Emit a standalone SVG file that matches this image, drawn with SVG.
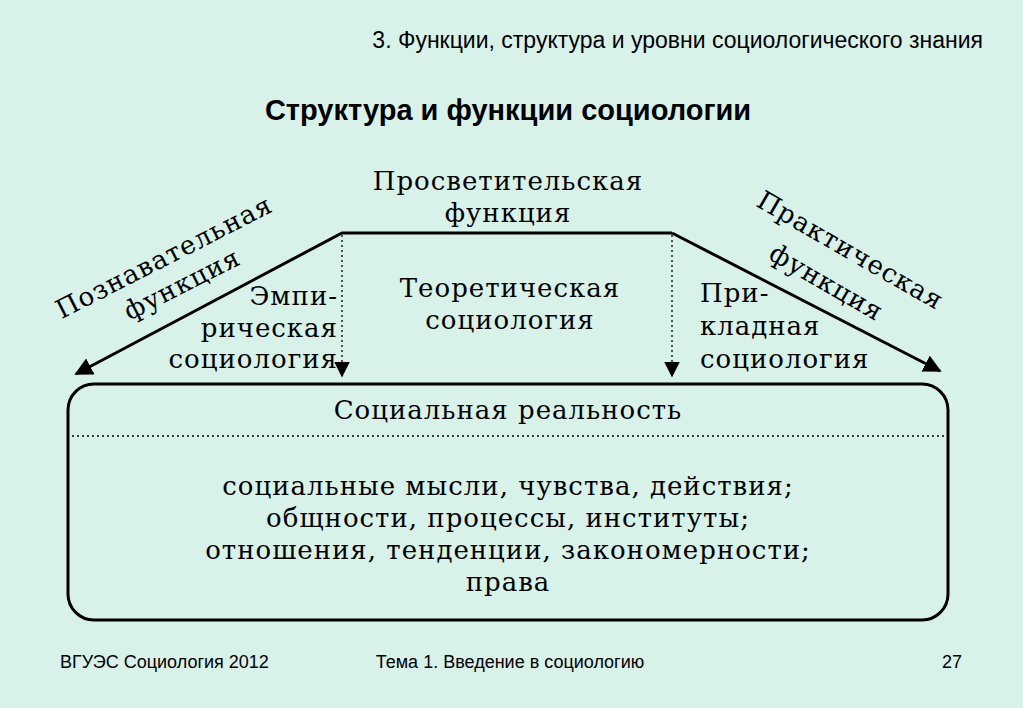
<svg xmlns="http://www.w3.org/2000/svg" width="1023" height="708" viewBox="0 0 1023 708">
<defs>
<style>
.s{font-family:"Liberation Sans",Arial,sans-serif;fill:#000}
.t{font-family:"DejaVu Serif","Liberation Serif",serif;fill:#000;font-size:26px;letter-spacing:1px;text-anchor:middle}
.e{text-anchor:end}
.b{text-anchor:start}
.ln{stroke:#000;stroke-width:3;fill:none}
.dt{stroke:#000;stroke-width:1.3;stroke-dasharray:2 3;fill:none}
</style>
<marker id="a" viewBox="0 0 10 10" refX="9" refY="5" markerWidth="6" markerHeight="6" markerUnits="strokeWidth" orient="auto"><path d="M0,0 L10,5 L0,10 z" fill="#000"/></marker>
<marker id="b" viewBox="0 0 10 10" refX="9" refY="5" markerWidth="12" markerHeight="12" markerUnits="strokeWidth" orient="auto"><path d="M0,0 L10,5 L0,10 z" fill="#000"/></marker>
</defs>
<rect width="1023" height="708" fill="#d8f1e9"/>
<text class="s" x="983" y="48" font-size="23" text-anchor="end">3. Функции, структура и уровни социологического знания</text>
<text class="s" x="508" y="120" font-size="29" font-weight="bold" text-anchor="middle">Структура и функции социологии</text>
<g id="connectors">
<path class="ln" d="M672,233 L342,233 L76,374" marker-end="url(#a)"/>
<path class="ln" d="M672,233 L940,371" marker-end="url(#a)"/>
<path class="dt" d="M342,235 L342,376" marker-end="url(#b)"/>
<path class="dt" d="M672,235 L672,376" marker-end="url(#b)"/>
</g>
<g id="labels">
<text class="t" x="508" y="190">Просветительская</text>
<text class="t" x="508" y="222">функция</text>
<text class="t" transform="translate(168,265) rotate(-27)">Познавательная</text>
<text class="t" transform="translate(186,292) rotate(-27)">функция</text>
<text class="t" transform="translate(846,258) rotate(30)">Практическая</text>
<text class="t" transform="translate(822,290) rotate(30)">функция</text>
<text class="t e" x="338" y="305">Эмпи-</text>
<text class="t e" x="338" y="337">рическая</text>
<text class="t e" x="338" y="368">социология</text>
<text class="t" x="510" y="297">Теоретическая</text>
<text class="t" x="510" y="329">социология</text>
<text class="t b" x="700" y="302">При-</text>
<text class="t b" x="700" y="335">кладная</text>
<text class="t b" x="700" y="368">социология</text>
</g>
<g id="reality">
<rect x="68" y="384" width="880" height="236" rx="26" fill="none" stroke="#000" stroke-width="3"/>
<path class="dt" d="M72,436 L944,436"/>
<text class="t" x="508" y="419" font-size="28">Социальная реальность</text>
<text class="t" x="508" y="495">социальные мысли, чувства, действия;</text>
<text class="t" x="508" y="527">общности, процессы, институты;</text>
<text class="t" x="508" y="559">отношения, тенденции, закономерности;</text>
<text class="t" x="508" y="591">права</text>
</g>
<text class="s" x="60" y="668" font-size="18">ВГУЭС Социология 2012</text>
<text class="s" x="510" y="668" font-size="18" text-anchor="middle">Тема 1. Введение в социологию</text>
<text class="s" x="962" y="668" font-size="18" text-anchor="end">27</text>
</svg>
